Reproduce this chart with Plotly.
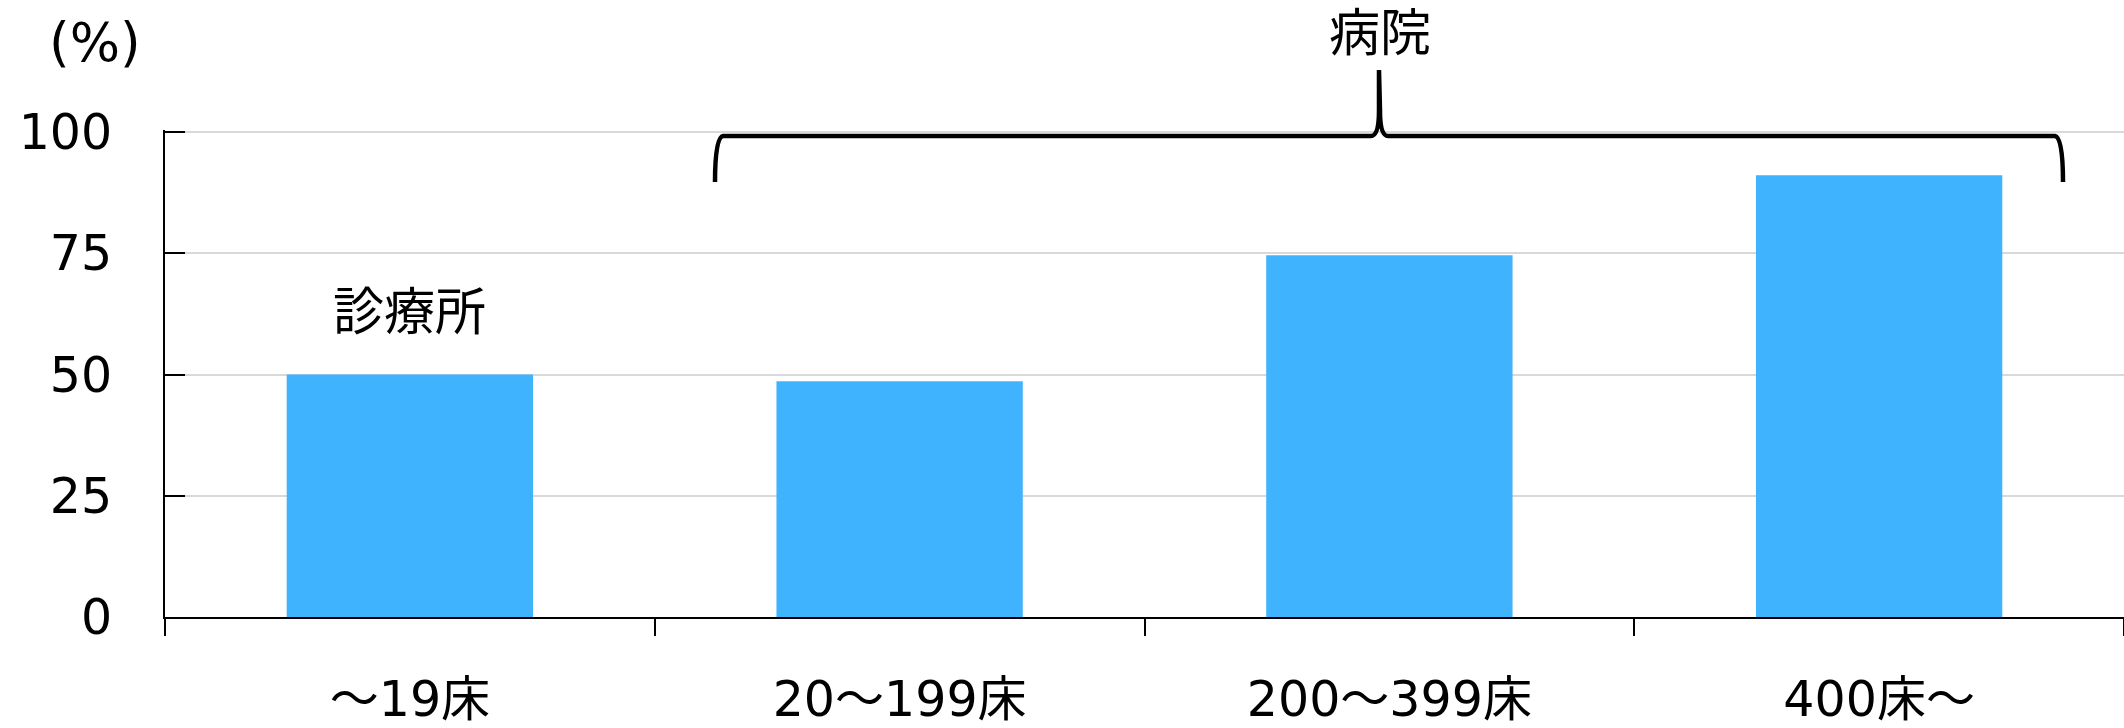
import plotly.graph_objects as go

# Share of facilities (%) by bed-count group
categories = ["〜19床", "20〜199床", "200〜399床", "400床〜"]
values = [50.0, 48.6, 74.6, 91.1]
y_ticks = [0, 25, 50, 75, 100]

BAR_COLOR = "#40B3FF"
FONT = "DejaVu Sans, Noto Sans CJK JP, sans-serif"

W, H = 2124, 728
ML, MR, MT, MB = 165, 0, 130, 111
PW, PH = W - ML - MR, H - MT - MB
Y_TOP = PH / 4.85  # a hair above 100 so the top gridline is kept


def px(x):
    return (x - ML) / PW


def py(y):
    return (H - MB - y) / PH


def P(x, y):
    return f"{px(x):.5f},{py(y):.5f}"


fig = go.Figure(
    go.Bar(
        x=categories,
        y=values,
        marker=dict(color=BAR_COLOR, line=dict(width=0)),
        hoverinfo="skip",
    )
)

# Curly brace grouping the hospital categories
brace = (
    f"M {P(715, 182)} Q {P(715, 137)} {P(723, 136)} "
    f"L {P(1371, 136)} Q {P(1379, 136)} {P(1379, 110)} L {P(1379, 70)} "
    f"L {P(1380, 110)} Q {P(1380, 136)} {P(1388, 136)} "
    f"L {P(2055, 136)} Q {P(2063, 137)} {P(2063, 182)}"
)

fig.update_layout(
    width=W,
    height=H,
    margin=dict(l=ML, r=MR, t=MT, b=MB, pad=0, autoexpand=False),
    paper_bgcolor="white",
    plot_bgcolor="white",
    showlegend=False,
    bargap=0.497,
    font=dict(family=FONT, size=48, color="black"),
    xaxis=dict(
        type="category",
        automargin=False,
        showline=True,
        linecolor="black",
        linewidth=2,
        ticks="outside",
        tickson="boundaries",
        ticklen=17,
        tickwidth=1.5,
        tickcolor="black",
        ticklabelstandoff=38,
        showgrid=False,
        tickfont=dict(family=FONT, size=49, color="black"),
    ),
    yaxis=dict(
        range=[0, Y_TOP],
        tickvals=y_ticks,
        automargin=False,
        showline=True,
        linecolor="black",
        linewidth=2,
        ticks="inside",
        ticklen=20,
        tickwidth=2,
        tickcolor="black",
        ticklabelstandoff=41,
        showgrid=True,
        gridcolor="#d9d9d9",
        gridwidth=2,
        zeroline=False,
        tickfont=dict(family=FONT, size=49, color="black"),
    ),
    shapes=[
        dict(
            type="path",
            xref="paper",
            yref="paper",
            path=brace,
            line=dict(color="black", width=4.5),
            layer="above",
        )
    ],
    annotations=[
        dict(
            text="病院",
            xref="paper",
            yref="paper",
            x=px(1380),
            y=py(34),
            showarrow=False,
            xanchor="center",
            yanchor="middle",
            font=dict(family=FONT, size=51, color="black"),
        ),
        dict(
            text="診療所",
            xref="x",
            yref="y",
            x=categories[0],
            y=62.7,
            showarrow=False,
            xanchor="center",
            yanchor="middle",
            font=dict(family=FONT, size=51, color="black"),
        ),
        dict(
            text="(%)",
            xref="paper",
            yref="paper",
            x=px(95),
            y=py(43),
            showarrow=False,
            xanchor="center",
            yanchor="middle",
            font=dict(family=FONT, size=53, color="black"),
        ),
    ],
)

fig.write_html("out.html")
